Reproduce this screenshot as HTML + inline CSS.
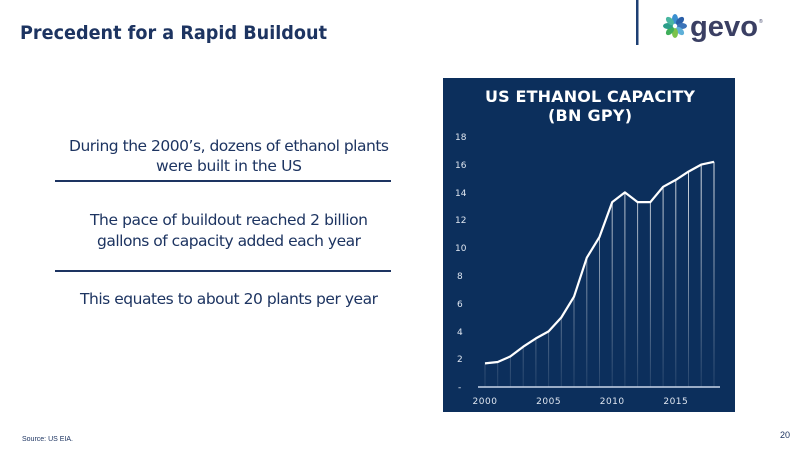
<!DOCTYPE html>
<html><head><meta charset="utf-8"><style>body{margin:0;background:#fff}svg{display:block}</style></head><body>
<svg width="800" height="450" xmlns="http://www.w3.org/2000/svg" font-family="Liberation Sans, DejaVu Sans, sans-serif">
<defs><linearGradient id="g" x1="0" y1="0" x2="0" y2="1"><stop offset="0" stop-color="#fff" stop-opacity="0.85"/><stop offset="1" stop-color="#fff" stop-opacity="0.1"/></linearGradient></defs>
<rect width="800" height="450" fill="#fff"/>
<text x="20" y="39" font-size="19" font-weight="bold" fill="#1d3461" font-family="DejaVu Sans, sans-serif" textLength="307" lengthAdjust="spacingAndGlyphs">Precedent for a Rapid Buildout</text>
<rect x="636" y="0" width="2.5" height="45" fill="#1d3f73"/>
<g transform="translate(675,26)">
<ellipse cx="0" cy="-7" rx="3" ry="5" fill="#3a8fd0"/>
<ellipse cx="5" cy="-5" rx="3" ry="5" transform="rotate(45 5 -5)" fill="#2a5fa8"/>
<ellipse cx="7" cy="0" rx="5" ry="3" fill="#3b73b8"/>
<ellipse cx="5" cy="5" rx="3" ry="5" transform="rotate(-45 5 5)" fill="#5fb0d8"/>
<ellipse cx="0" cy="7" rx="3" ry="5" fill="#7cc34b"/>
<ellipse cx="-5" cy="5" rx="3" ry="5" transform="rotate(45 -5 5)" fill="#3fae5a"/>
<ellipse cx="-7" cy="0" rx="5" ry="3" fill="#2b9e8a"/>
<ellipse cx="-5" cy="-5" rx="3" ry="5" transform="rotate(-45 -5 -5)" fill="#49b6a0"/>
</g>
<text x="690" y="36" font-size="29" font-weight="bold" fill="#3a3f63" textLength="68" lengthAdjust="spacingAndGlyphs">gevo</text>
<text x="759" y="23" font-size="5" fill="#3a3f63">®</text>
<g font-size="15.5" fill="#1d3461" text-anchor="middle" font-family="DejaVu Sans, sans-serif" lengthAdjust="spacingAndGlyphs">
<text x="229" y="151" textLength="320">During the 2000’s, dozens of ethanol plants</text>
<text x="229" y="171" textLength="146">were built in the US</text>
<text x="229" y="225" textLength="278">The pace of buildout reached 2 billion</text>
<text x="229" y="246" textLength="264">gallons of capacity added each year</text>
<text x="229" y="304" textLength="298">This equates to about 20 plants per year</text>
</g>
<rect x="55" y="180" width="336" height="2" fill="#1d3461"/>
<rect x="55" y="270" width="336" height="2" fill="#1d3461"/>
<text x="22" y="441" font-size="7" fill="#1d3461">Source:  US EIA.</text>
<text x="790" y="438" font-size="9" fill="#1d3461" text-anchor="end">20</text>
<rect x="443" y="78" width="292" height="334" fill="#0c2f5c"/>
<g font-size="16" font-weight="bold" fill="#fff" text-anchor="middle" font-family="DejaVu Sans, sans-serif" lengthAdjust="spacingAndGlyphs">
<text x="590" y="102" textLength="210">US ETHANOL CAPACITY</text>
<text x="590" y="121" textLength="84">(BN GPY)</text></g>
<g font-size="9" fill="#dfe6f0" font-family="DejaVu Sans, sans-serif">
<text x="455" y="140">18</text><text x="455" y="168">16</text><text x="455" y="196">14</text><text x="455" y="223">12</text><text x="455" y="251">10</text><text x="457" y="279">8</text><text x="457" y="307">6</text><text x="457" y="335">4</text><text x="457" y="362">2</text><text x="458" y="390">-</text>
</g>
<g font-size="9" fill="#dfe6f0" text-anchor="middle" font-family="DejaVu Sans, sans-serif" letter-spacing="0.5">
<text x="485" y="404">2000</text><text x="548.6" y="404">2005</text><text x="612.2" y="404">2010</text><text x="675.8" y="404">2015</text></g>
<g stroke="url(#g)" stroke-width="1" fill="none">
<path d="M485 363.4V387M497.7 362V387M510.4 356.4V387M523.2 346.7V387M535.9 338.4V387M548.6 331.4V387M561.3 317.5V387M574 296.7V387M586.8 257.7V387M599.5 236.9V387M612.2 202.1V387M624.9 192.4V387M637.6 202.1V387M650.4 202.1V387M663.1 186.8V387M675.8 179.9V387M688.5 171.6V387M701.2 164.6V387M714 161.8V387"/>
</g>
<line x1="478" y1="387" x2="720" y2="387" stroke="#c9d6ea" stroke-width="1.5"/>
<polyline fill="none" stroke="#fff" stroke-width="2.2" stroke-linejoin="round" points="485,363.4 497.7,362 510.4,356.4 523.2,346.7 535.9,338.4 548.6,331.4 561.3,317.5 574,296.7 586.8,257.7 599.5,236.9 612.2,202.1 624.9,192.4 637.6,202.1 650.4,202.1 663.1,186.8 675.8,179.9 688.5,171.6 701.2,164.6 714,161.8"/>
</svg>
</body></html>
